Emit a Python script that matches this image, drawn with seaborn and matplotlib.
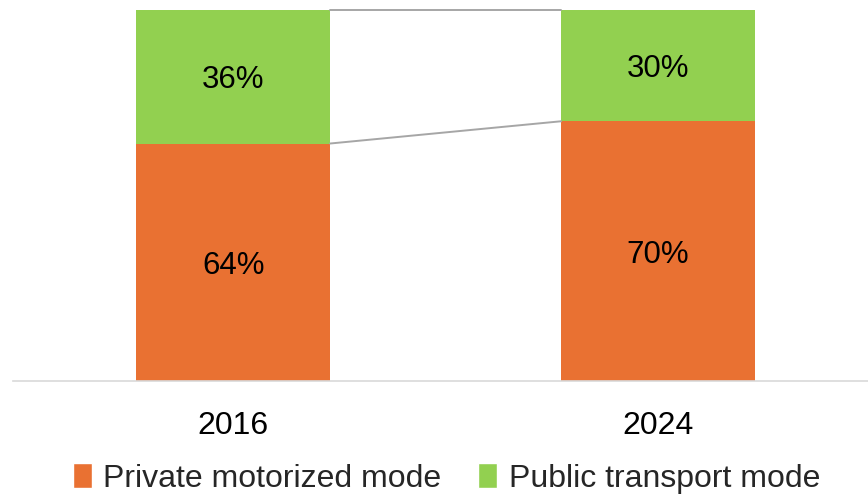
import numpy as np
import pandas as pd
import seaborn as sns
import matplotlib.pyplot as plt
from matplotlib.patches import Patch

# Data
years = ["2016", "2024"]
private_share = [64, 70]
public_share = [36, 30]
series_names = ["Private motorized mode", "Public transport mode"]

ORANGE = "#E97132"
GREEN = "#92D050"
LINE_GRAY = "#A6A6A6"

sns.set_theme(style="white")
plt.rcParams["font.family"] = ["Liberation Sans", "DejaVu Sans"]

df = pd.DataFrame({"Year": years, "Private": private_share, "Public": public_share})
df["Total"] = df["Private"] + df["Public"]

fig = plt.figure(figsize=(8.68, 4.97), dpi=100)
ax = fig.add_axes([0.015, 0.2334, 0.985, 0.7466])

bar_w = 0.456
# stacked via overdraw: total (green) first, then private (orange) on top
sns.barplot(data=df, x="Year", y="Total", color=GREEN, width=bar_w,
            saturation=1, ax=ax, linewidth=0)
sns.barplot(data=df, x="Year", y="Private", color=ORANGE, width=bar_w,
            saturation=1, ax=ax, linewidth=0)

# series connector lines
for cum in [df["Private"].values, df["Total"].values]:
    ax.plot([0 + bar_w / 2, 1 - bar_w / 2], cum, color=LINE_GRAY, lw=1.4,
            zorder=1, clip_on=False)

# value labels
for i, row in df.iterrows():
    ax.text(i, row["Private"] / 2, f"{row['Private']}%", ha="center",
            va="center_baseline", fontsize=22.5, color="black")
    ax.text(i, row["Private"] + row["Public"] / 2, f"{row['Public']}%", ha="center",
            va="center_baseline", fontsize=22.5, color="black")

ax.set_ylim(0, 100)
ax.set_xlim(-0.518, 1.494)
ax.set_xlabel("")
ax.set_ylabel("")
ax.set_yticks([])
ax.tick_params(axis="x", length=0, pad=21.5, labelsize=23, labelcolor="black")
for s in ["top", "right", "left"]:
    ax.spines[s].set_visible(False)
ax.spines["bottom"].set_color("#D9D9D9")
ax.spines["bottom"].set_linewidth(1.2)

handles = [Patch(facecolor=ORANGE), Patch(facecolor=GREEN)]
fig.legend(handles, series_names, loc="center", bbox_to_anchor=(0.5145, 0.037),
           ncol=2, frameon=False, fontsize=23, handlelength=0.6, handleheight=0.8,
           handletextpad=0.35, columnspacing=1.15, borderaxespad=0, borderpad=0)

fig.savefig("out.png", dpi=100)
